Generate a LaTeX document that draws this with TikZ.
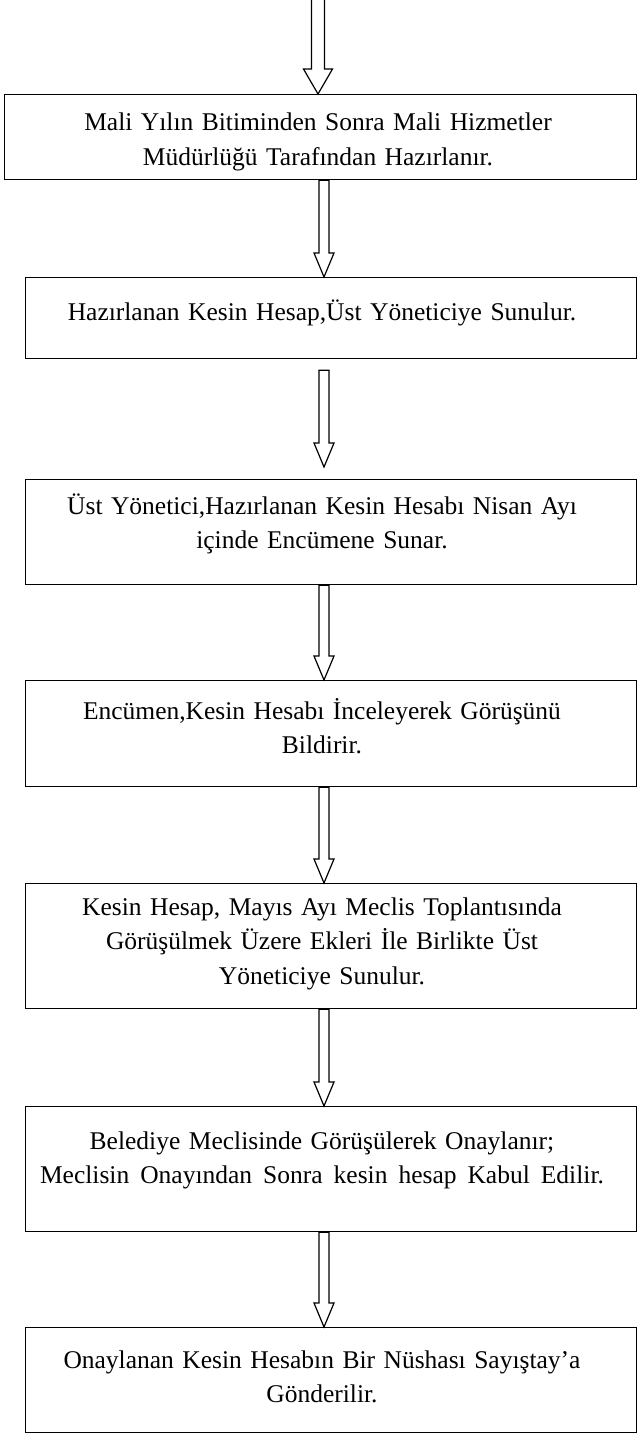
\documentclass[tikz,border=0pt]{standalone}
\usepackage{fontspec}
\setmainfont{Liberation Serif}
\usetikzlibrary{calc}
\tikzset{
  box/.style={draw, line width=1.3pt, inner sep=0pt, anchor=north west},
  txt/.style={inner sep=0pt, text width=630pt, align=center, anchor=base, font=\fontsize{25.5}{34.5}\selectfont},
  barrow/.style={draw, line width=1.2pt, line join=miter},
}
\newcommand\blockarrow[5]{\draw[barrow] let \p1=#1, \p2=#2 in (\x1-#3,\y1) -- (\x1-#3,\y2+#5) -- (\x1-#4,\y2+#5) -- (\x1,\y2) -- (\x1+#4,\y2+#5) -- (\x1+#3,\y2+#5) -- (\x1+#3,\y1) -- cycle;}
\begin{document}
\begin{tikzpicture}
\useasboundingbox (0,0) rectangle (637pt,-1434pt);
\coordinate (start) at (318pt,3pt);
\coordinate (ax) at (324pt,0);
\coordinate (tx) at (322pt,0);
% boxes
\node[box, minimum width=632pt, minimum height=85pt] (b1) at (4pt,-94pt) {};
\node[box, minimum width=611pt, minimum height=81pt] (b2) at (25pt,-277pt) {};
\node[box, minimum width=611pt, minimum height=105pt] (b3) at (25pt,-479pt) {};
\node[box, minimum width=611pt, minimum height=106pt] (b4) at (25pt,-680pt) {};
\node[box, minimum width=611pt, minimum height=125pt] (b5) at (25pt,-883pt) {};
\node[box, minimum width=611pt, minimum height=125pt] (b6) at (25pt,-1106pt) {};
\node[box, minimum width=611pt, minimum height=105pt] (b7) at (25pt,-1327pt) {};
% texts
\node[txt] (t1) at ($(b1.north -| start)+(0,-37pt)$) {Mali Yılın Bitiminden Sonra Mali Hizmetler\\Müdürlüğü Tarafından Hazırlanır.};
\node[txt] (t2) at ($(b2.north -| tx)+(0,-43pt)$) {Hazırlanan Kesin Hesap,Üst Yöneticiye Sunulur.};
\node[txt] (t3) at ($(b3.north -| tx)+(0,-35pt)$) {Üst Yönetici,Hazırlanan Kesin Hesabı Nisan Ayı\\içinde Encümene Sunar.};
\node[txt] (t4) at ($(b4.north -| tx)+(0,-39pt)$) {Encümen,Kesin Hesabı İnceleyerek Görüşünü\\Bildirir.};
\node[txt] (t5) at ($(b5.north -| tx)+(0,-32pt)$) {Kesin Hesap, Mayıs Ayı Meclis Toplantısında\\Görüşülmek Üzere Ekleri İle Birlikte Üst\\Yöneticiye Sunulur.};
\node[txt] (t6) at ($(b6.north -| tx)+(0,-43pt)$) {Belediye Meclisinde Görüşülerek Onaylanır;\\{\spaceskip=11pt Meclisin Onayından Sonra kesin hesap Kabul Edilir.}};
\node[txt] (t7) at ($(b7.north -| tx)+(0,-41pt)$) {Onaylanan Kesin Hesabın Bir Nüshası Sayıştay’a\\Gönderilir.};
% arrows
\blockarrow{(start)}{(b1.north -| start)}{6.5pt}{14.5pt}{25pt}
\blockarrow{(b1.south -| ax)}{(b2.north -| ax)}{5pt}{10pt}{24pt}
\blockarrow{($(b2.south -| ax)+(0,-11pt)$)}{($(b3.north -| ax)+(0,12pt)$)}{5pt}{10pt}{24pt}
\blockarrow{(b3.south -| ax)}{(b4.north -| ax)}{5pt}{10pt}{24pt}
\blockarrow{(b4.south -| ax)}{(b5.north -| ax)}{5pt}{10pt}{24pt}
\blockarrow{(b5.south -| ax)}{(b6.north -| ax)}{5pt}{10pt}{24pt}
\blockarrow{(b6.south -| ax)}{(b7.north -| ax)}{5pt}{10pt}{24pt}
\end{tikzpicture}
\end{document}
